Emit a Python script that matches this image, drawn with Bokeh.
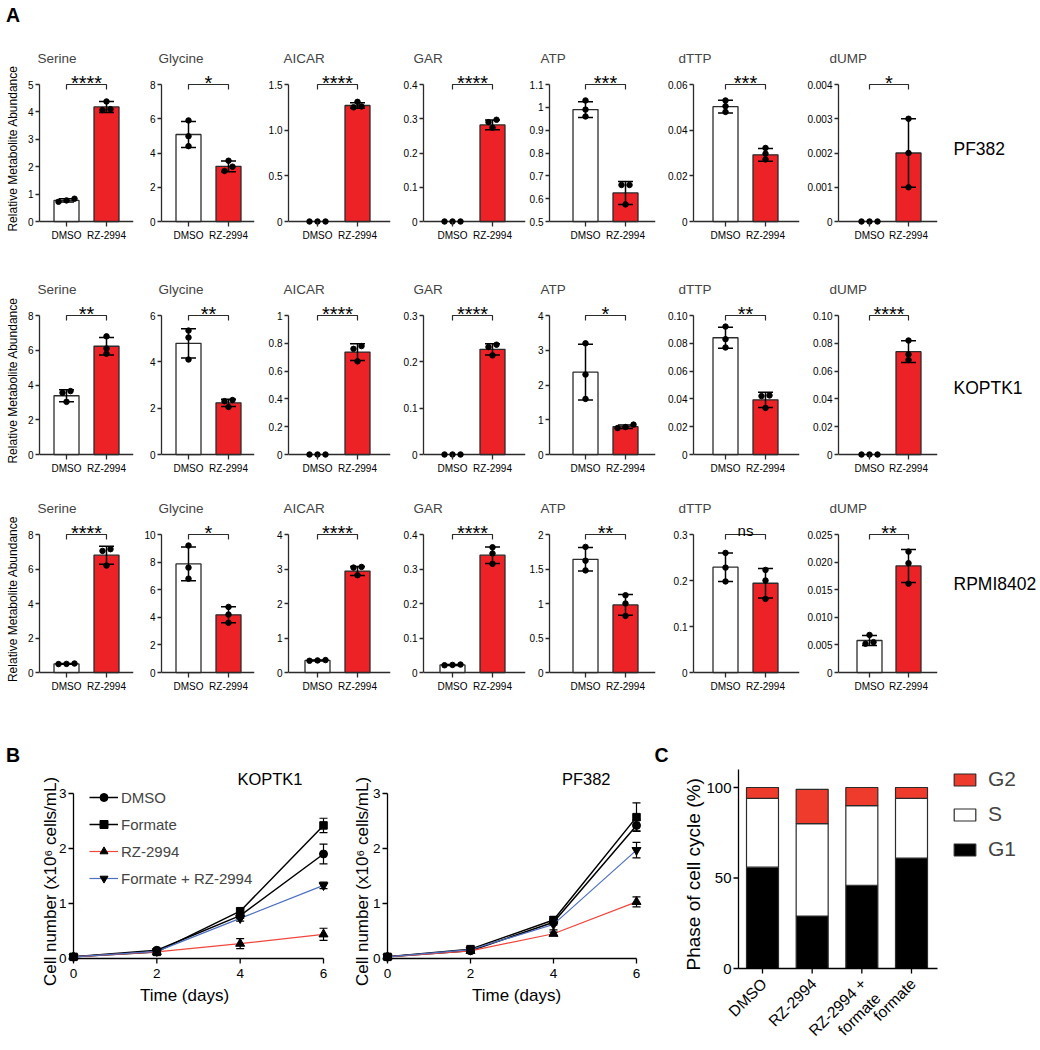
import math
from bokeh.plotting import figure
from bokeh.models import (Range1d, FixedTicker, Whisker, TeeHead, ColumnDataSource,
                          Label, Legend, LegendItem, Span)
from bokeh.layouts import row, column
from bokeh.embed import file_html
from bokeh.resources import INLINE
from bokeh.core.properties import value

# ============================ DATA ============================
# ---- Panel A: relative metabolite abundance (bar = mean, whisker = SD, dots = replicates)
metabolites = ["Serine", "Glycine", "AICAR", "GAR", "ATP", "dTTP", "dUMP"]
treatments = ["DMSO", "RZ-2994"]
cell_lines = ["PF382", "KOPTK1", "RPMI8402"]

pf382_dmso_mean = [0.77, 5.08, 0.0, 0.0, 0.99, 0.0503, 0.0]
pf382_dmso_sd = [0.06, 0.76, 0.0, 0.0, 0.035, 0.0028, 0.0]
pf382_dmso_pts = [[0.83, 0.77, 0.72], [5.90, 4.98, 4.40], [0, 0, 0], [0, 0, 0],
                  [1.03, 0.99, 0.96], [0.0530, 0.0505, 0.0480], [0, 0, 0]]
pf382_rz_mean = [4.18, 3.22, 1.27, 0.282, 0.625, 0.0292, 0.0020]
pf382_rz_sd = [0.20, 0.32, 0.03, 0.014, 0.05, 0.0028, 0.0010]
pf382_rz_pts = [[4.38, 4.10, 4.07], [3.55, 3.20, 2.95], [1.31, 1.26, 1.25],
                [0.297, 0.290, 0.274], [0.66, 0.66, 0.575], [0.0322, 0.0297, 0.0272],
                [0.0030, 0.0020, 0.0010]]
pf382_ticks = [["0", "1", "2", "3", "4", "5"], ["0", "2", "4", "6", "8"],
               ["0", "0.5", "1.0", "1.5"], ["0", "0.1", "0.2", "0.3", "0.4"],
               ["0.5", "0.6", "0.7", "0.8", "0.9", "1", "1.1"],
               ["0", "0.02", "0.04", "0.06"], ["0", "0.001", "0.002", "0.003", "0.004"]]
pf382_sig = ["****", "*", "****", "****", "***", "***", "*"]

koptk1_dmso_mean = [3.38, 4.80, 0.0, 0.0, 2.37, 0.084, 0.0]
koptk1_dmso_sd = [0.34, 0.63, 0.0, 0.0, 0.80, 0.0075, 0.0]
koptk1_dmso_pts = [[3.65, 3.55, 3.03], [5.35, 5.05, 4.10], [0, 0, 0], [0, 0, 0],
                   [3.20, 2.30, 1.60], [0.092, 0.083, 0.077], [0, 0, 0]]
koptk1_rz_mean = [6.23, 2.23, 0.737, 0.227, 0.80, 0.0393, 0.074]
koptk1_rz_sd = [0.50, 0.16, 0.06, 0.012, 0.05, 0.0055, 0.0078]
koptk1_rz_pts = [[6.80, 6.10, 5.80], [2.35, 2.30, 2.05], [0.78, 0.76, 0.67],
                 [0.237, 0.232, 0.214], [0.86, 0.79, 0.76], [0.0425, 0.0420, 0.0335],
                 [0.082, 0.072, 0.068]]
koptk1_ticks = [["0", "2", "4", "6", "8"], ["0", "2", "4", "6"],
                ["0", "0.2", "0.4", "0.6", "0.8", "1"], ["0", "0.1", "0.2", "0.3"],
                ["0", "1", "2", "3", "4"],
                ["0", "0.02", "0.04", "0.06", "0.08", "0.10"],
                ["0", "0.02", "0.04", "0.06", "0.08", "0.10"]]
koptk1_sig = ["**", "**", "****", "****", "*", "**", "****"]

rpmi8402_dmso_mean = [0.50, 7.87, 0.35, 0.022, 1.64, 0.229, 0.0058]
rpmi8402_dmso_sd = [0.02, 1.22, 0.015, 0.0015, 0.17, 0.031, 0.0009]
rpmi8402_dmso_pts = [[0.52, 0.50, 0.49], [9.20, 7.60, 6.80], [0.36, 0.35, 0.34],
                     [0.023, 0.022, 0.021], [1.82, 1.62, 1.48], [0.260, 0.228, 0.198],
                     [0.0068, 0.0055, 0.0052]]
rpmi8402_rz_mean = [6.80, 4.18, 2.94, 0.340, 0.98, 0.194, 0.0193]
rpmi8402_rz_sd = [0.52, 0.58, 0.13, 0.024, 0.15, 0.032, 0.0030]
rpmi8402_rz_pts = [[7.15, 7.05, 6.20], [4.75, 4.20, 3.60], [3.06, 3.04, 2.82],
                   [0.363, 0.345, 0.315], [1.12, 1.00, 0.82], [0.223, 0.200, 0.160],
                   [0.0219, 0.0198, 0.0161]]
rpmi8402_ticks = [["0", "2", "4", "6", "8"], ["0", "2", "4", "6", "8", "10"],
                  ["0", "1", "2", "3", "4"], ["0", "0.1", "0.2", "0.3", "0.4"],
                  ["0", "0.5", "1", "1.5", "2"], ["0", "0.1", "0.2", "0.3"],
                  ["0", "0.005", "0.010", "0.015", "0.020", "0.025"]]
rpmi8402_sig = ["****", "*", "****", "****", "**", "ns", "**"]

# ---- Panel B: cell growth (x10^6 cells/mL), mean and error
days = [0, 2, 4, 6]
growth_series = ["DMSO", "Formate", "RZ-2994", "Formate + RZ-2994"]
koptk1_g_dmso = [0.03, 0.15, 0.78, 1.90]
koptk1_g_dmso_err = [0.01, 0.02, 0.05, 0.18]
koptk1_g_formate = [0.03, 0.12, 0.86, 2.42]
koptk1_g_formate_err = [0.01, 0.01, 0.04, 0.13]
koptk1_g_rz = [0.03, 0.12, 0.27, 0.44]
koptk1_g_rz_err = [0.01, 0.01, 0.09, 0.11]
koptk1_g_frz = [0.03, 0.13, 0.73, 1.33]
koptk1_g_frz_err = [0.01, 0.01, 0.05, 0.06]
pf382_g_dmso = [0.03, 0.14, 0.66, 2.42]
pf382_g_dmso_err = [0.01, 0.01, 0.05, 0.10]
pf382_g_formate = [0.03, 0.17, 0.70, 2.57]
pf382_g_formate_err = [0.01, 0.02, 0.06, 0.26]
pf382_g_rz = [0.03, 0.14, 0.45, 1.03]
pf382_g_rz_err = [0.01, 0.01, 0.03, 0.09]
pf382_g_frz = [0.03, 0.16, 0.62, 1.97]
pf382_g_frz_err = [0.01, 0.01, 0.10, 0.14]
growth_x_ticks = ["0", "2", "4", "6"]
growth_y_ticks = ["0", "1", "2", "3"]

# ---- Panel C: phase of cell cycle (%)
cycle_groups = ["DMSO", "RZ-2994", "RZ-2994 +\nformate", "formate"]
phase_names = ["G1", "S", "G2"]
phase_g1 = [56, 29, 46, 61]
phase_s = [38, 51, 44, 33]
phase_g2 = [6, 19, 10, 6]
cycle_y_ticks = ["0", "50", "100"]
cycle_y_max = 110

# ============================ STYLE / LAYOUT ============================
FONT = "Liberation Sans"
RED_BAR = "#EC2227"
RED_C = "#EF3B2C"
RED_LINE = "#F0473D"
BLUE_LINE = "#4D6FC0"
EDGE = "#2b2b2b"

# panel A geometry (page pixels)
A_B = [0, 134, 255, 391, 526, 656, 800, 938, 1040]       # figure boundaries
A_AX = [39, 161, 288, 423, 549, 693, 838]               # y-axis x
A_C1 = [66, 188, 317, 452, 585, 725, 869]               # DMSO bar centre
A_C2 = [106, 228, 357, 492, 625, 765, 908]              # RZ bar centre
A_END = [133, 254, 390, 525, 655, 799, 937]             # x-axis end
A_TITLE_X = [37, 158, 283, 413, 540, 678, 829]
A_ROW_TOP = [84, 315, 534]      # pixel of top tick
A_ROW_BOT = [221, 454, 672]     # pixel of bottom tick
A_FIG_TOP = [38, 269, 488]
A_FIG_BOT = [269, 488, 702]
A_PAD_TOP = 14
A_PAD_BOT = 5
A_BAR_W = 25
A_DOT_STEP = 8
A_LINE_X = 953
A_LINE_Y = [148, 387, 583]

# panel B/C geometry
B_TOP, B_BOT = 767, 1050
B_Y0, B_Y3 = 958, 793
B_TITLE_Y = 778
B_XTICK_Y = 972.5
B_XLABEL_Y = 995
B_YLABEL_Y = 881

C_FIG_L, C_FIG_R = 650, 1040
C_AX, C_AX_END = 738, 937
C_BAR_PX = [762, 812, 861, 911]
C_BAR_W = 32
C_Y0, C_Y100 = 968, 787
C_YLABEL_X = 693


def tick_key(v):
    return int(v) if float(v).is_integer() else v


def new_fig(**kw):
    p = figure(toolbar_location=None, output_backend="svg", frame_align=False, **kw)
    p.outline_line_color = None
    p.background_fill_color = "white"
    p.border_fill_color = "white"
    if p.xgrid:
        p.xgrid.visible = False
    if p.ygrid:
        p.ygrid.visible = False
    return p


def style_axis(axis, size, color, tick_out, line_w=1.3, standoff=2):
    axis.axis_line_color = color
    axis.axis_line_width = line_w
    axis.major_tick_line_color = color
    axis.major_tick_line_width = line_w
    axis.major_tick_in = 0
    axis.major_tick_out = tick_out
    axis.minor_tick_line_color = None
    axis.major_label_text_font = FONT
    axis.major_label_text_font_size = size
    axis.major_label_text_color = "black"
    axis.major_label_standoff = standoff
    axis.axis_label_text_font = FONT
    axis.axis_label_text_font_style = "normal"
    axis.axis_label_text_color = "black"


def text_strip(width, height, items):
    p = new_fig(width=width, height=height, x_range=Range1d(0, width),
                y_range=Range1d(height, 0), min_border=0,
                x_axis_location=None, y_axis_location=None)
    for (x, y, txt, size, style, baseline) in items:
        p.add_layout(Label(x=x, y=y, text=txt, text_font=FONT, text_font_size=size,
                           text_font_style=style, text_baseline=baseline,
                           text_align="left", text_color="black"))
    return p


def swarm(vals, cx, px_per_unit, step):
    order = sorted(range(len(vals)), key=lambda i: vals[i])
    clusters = []
    for i in order:
        if clusters and abs(vals[i] - vals[clusters[-1][-1]]) * px_per_unit < 4.5:
            clusters[-1].append(i)
        else:
            clusters.append([i])
    xs = [cx] * len(vals)
    for cl in clusters:
        n = len(cl)
        for k, i in enumerate(cl):
            xs[i] = cx + (k - (n - 1) / 2) * step
    return xs


def bar_panel(r, c, name, tick_labels, means, sds, pts, sig):
    ticks = [float(t) for t in tick_labels]
    lo, hi = ticks[0], ticks[-1]
    H = A_ROW_BOT[r] - A_ROW_TOP[r]
    upp = (hi - lo) / H
    u = A_C2[c] - A_C1[c]
    xr = Range1d(1 - (A_C1[c] - A_AX[c]) / u, 2 + (A_END[c] - A_C2[c]) / u)
    yr = Range1d(lo - A_PAD_BOT * upp, hi + A_PAD_TOP * upp)
    ft, fb = A_FIG_TOP[r], A_FIG_BOT[r]
    p = new_fig(width=A_B[c + 1] - A_B[c], height=fb - ft, x_range=xr, y_range=yr,
                min_border_left=A_AX[c] - A_B[c], min_border_right=A_B[c + 1] - A_END[c],
                min_border_top=(A_ROW_TOP[r] - A_PAD_TOP) - ft,
                min_border_bottom=fb - (A_ROW_BOT[r] + A_PAD_BOT), title=name)
    p.title.text_font = FONT
    p.title.text_font_size = "13.5px"
    p.title.text_font_style = "normal"
    p.title.align = "left"
    p.title.offset = A_TITLE_X[c] - A_AX[c]
    p.title.standoff = 9

    p.add_layout(Span(location=lo, dimension="width", line_color=EDGE,
                      line_width=1.3, level="underlay"))
    xs = [1, 2]
    fills = ["white", RED_BAR]
    keep = [i for i in range(2) if means[i] > lo]
    p.vbar(x=[xs[i] for i in keep], top=[means[i] for i in keep], bottom=lo,
           width=A_BAR_W / u, fill_color=[fills[i] for i in keep],
           line_color=EDGE, line_width=1.3)
    wk = [i for i in range(2) if sds[i] > 0]
    wsrc = ColumnDataSource(dict(x=[xs[i] for i in wk],
                                 up=[means[i] + sds[i] for i in wk],
                                 dn=[means[i] - sds[i] for i in wk]))
    p.add_layout(Whisker(source=wsrc, base="x", upper="up", lower="dn",
                         dimension="height", line_width=1.5, line_color="black",
                         level="annotation",
                         upper_head=TeeHead(size=15, line_width=1.5, line_color="black"),
                         lower_head=TeeHead(size=15, line_width=1.5, line_color="black")))
    for i in range(2):
        jx = swarm(pts[i], xs[i], 1 / upp, A_DOT_STEP / u)
        p.scatter(jx, pts[i], size=5.5, fill_color="black", line_color="black")

    tk = 5 * upp
    p.line([1, 1, 2, 2], [hi - tk, hi, hi, hi - tk], line_color=EDGE, line_width=1.2)
    if sig == "ns":
        p.text([1.5], [hi + 4 * upp], text=[sig], text_align="center",
               text_baseline="alphabetic", text_font=value(FONT),
               text_font_size="15px", text_color="black")
    else:
        p.text([1.5], [hi + 1.5 * upp], text=[sig], text_align="center",
               text_baseline="alphabetic", text_font=value(FONT),
               text_font_size="20px", text_color="black")

    ya = p.yaxis[0]
    style_axis(ya, "10px", EDGE, 4, 1.3, 2)
    ya.ticker = FixedTicker(ticks=ticks)
    ya.major_label_overrides = {tick_key(t): s for t, s in zip(ticks, tick_labels)}
    ya.bounds = (lo, hi)
    if c == 0:
        ya.axis_label = "Relative Metabolite Abundance"
        ya.axis_label_text_font_size = "12px"
        ya.axis_label_standoff = 5
    xa = p.xaxis[0]
    style_axis(xa, "10px", EDGE, 0, 1.3, 3)
    xa.axis_line_color = None
    xa.major_tick_in = A_PAD_BOT
    xa.ticker = FixedTicker(ticks=xs)
    xa.major_label_overrides = {1: treatments[0], 2: treatments[1]}
    return p


GROWTH_STYLE = [("black", 1.5, "circle", 8), ("black", 1.5, "square", 7.5),
                (RED_LINE, 1.2, "triangle", 9), (BLUE_LINE, 1.2, "inverted_triangle", 9)]


def growth_panel(fig_l, fig_r, x0_px, x6_px, name, name_right, xlabel_cx, ylabel_cx,
                 series, errors, with_legend):
    pxx = (x6_px - x0_px) / 6.0
    pxy = (B_Y0 - B_Y3) / 3.0
    X = lambda px: (px - x0_px) / pxx          # page px -> data x
    Y = lambda py: (B_Y0 - py) / pxy           # page px -> data y
    p = new_fig(width=fig_r - fig_l, height=B_BOT - B_TOP,
                x_range=Range1d(X(fig_l), X(fig_r)), y_range=Range1d(Y(B_BOT), Y(B_TOP)),
                min_border=0, x_axis_location=None, y_axis_location=None)
    xt = [float(t) for t in growth_x_ticks]
    yt = [float(t) for t in growth_y_ticks]
    # axes drawn in data space
    p.line([xt[0], xt[-1]], [0, 0], line_color="black", line_width=1.3)
    p.line([0, 0], [yt[0], yt[-1]], line_color="black", line_width=1.3)
    p.segment(x0=xt, y0=[0] * len(xt), x1=xt, y1=[-5 / pxy] * len(xt),
              line_color="black", line_width=1.3)
    p.segment(x0=[0] * len(yt), y0=yt, x1=[-5 / pxx] * len(yt), y1=yt,
              line_color="black", line_width=1.3)
    p.text(x=xt, y=[Y(B_XTICK_Y)] * len(xt), text=growth_x_ticks, text_align="center",
           text_baseline="middle", text_font=value(FONT), text_font_size="13.5px",
           text_color="black")
    p.text(x=[-7 / pxx] * len(yt), y=yt, text=growth_y_ticks, text_align="right",
           text_baseline="middle", text_font=value(FONT), text_font_size="13.5px",
           text_color="black")
    p.text(x=[X(xlabel_cx)], y=[Y(B_XLABEL_Y)], text=["Time (days)"],
           text_align="center", text_baseline="middle", text_font=value(FONT),
           text_font_size="17px", text_color="black")
    p.text(x=[X(ylabel_cx)], y=[Y(B_YLABEL_Y)], text=["Cell number (x10\u2076 cells/mL)"],
           angle=math.pi / 2, text_align="center", text_baseline="middle",
           text_font=value(FONT), text_font_size="17px", text_color="black")

    items = []
    for lab, (color, lw, marker, ms), vals, errs in zip(growth_series, GROWTH_STYLE,
                                                         series, errors):
        ln = p.line(days, vals, line_color=color, line_width=lw)
        wsrc = ColumnDataSource(dict(x=days, up=[v + e for v, e in zip(vals, errs)],
                                     dn=[v - e for v, e in zip(vals, errs)]))
        p.add_layout(Whisker(source=wsrc, base="x", upper="up", lower="dn",
                             dimension="height", line_width=1.2, line_color="black",
                             level="annotation",
                             upper_head=TeeHead(size=8, line_width=1.2, line_color="black"),
                             lower_head=TeeHead(size=8, line_width=1.2, line_color="black")))
        sc = p.scatter(days, vals, marker=marker, size=ms, fill_color="black",
                       line_color="black")
        items.append(LegendItem(label=lab, renderers=[ln, sc]))
    p.add_layout(Label(x=X(name_right), y=Y(B_TITLE_Y),
                       text=name, text_align="right", text_baseline="middle",
                       text_font=FONT, text_font_size="16.5px", text_color="black"))
    if with_legend:
        n = len(items)
        item_h, gap = 20, 7
        leg_h = n * item_h + (n - 1) * gap
        top = 797 - item_h / 2
        leg = Legend(items=items, location=(89 - fig_l, B_BOT - (top + leg_h)),
                     glyph_width=29, glyph_height=item_h, label_height=item_h,
                     label_standoff=3, spacing=gap, padding=0, margin=0,
                     border_line_color=None, background_fill_alpha=0,
                     label_text_font=FONT, label_text_font_size="15px")
        p.add_layout(leg)
    return p


def cycle_panel():
    unit = (C_BAR_PX[-1] - C_BAR_PX[0]) / 3.0
    pxy = (C_Y0 - C_Y100) / 100.0
    xr = Range1d(1 - (C_BAR_PX[0] - C_FIG_L) / unit, 1 + (C_FIG_R - C_BAR_PX[0]) / unit)
    yr = Range1d(-(B_BOT - C_Y0) / pxy, (C_Y0 - B_TOP) / pxy)
    p = new_fig(width=C_FIG_R - C_FIG_L, height=B_BOT - B_TOP, x_range=xr, y_range=yr,
                min_border=0, x_axis_location=None, y_axis_location=None)
    xs = list(range(1, len(cycle_groups) + 1))
    src = ColumnDataSource(dict(x=xs, G1=phase_g1, S=phase_s, G2=phase_g2))
    rs = p.vbar_stack(phase_names, x="x", width=C_BAR_W / unit, source=src,
                      fill_color=["black", "white", RED_C], line_color=EDGE,
                      line_width=1.2)
    x_ax = 1 - (C_BAR_PX[0] - C_AX) / unit
    x_end = 1 + (C_AX_END - C_BAR_PX[0]) / unit
    yt = [float(t) for t in cycle_y_ticks]
    # value axis
    p.line([x_ax, x_ax], [0, cycle_y_max], line_color="black", line_width=1.3)
    p.segment(x0=[x_ax] * len(yt), y0=yt, x1=[x_ax - 5 / unit] * len(yt), y1=yt,
              line_color="black", line_width=1.3)
    p.text(x=[x_ax - 7 / unit] * len(yt), y=yt, text=cycle_y_ticks, text_align="right",
           text_baseline="middle", text_font=value(FONT), text_font_size="15px",
           text_color="black")
    p.text(x=[x_ax - (C_AX - C_YLABEL_X) / unit], y=[cycle_y_max / 2 - 3],
           text=["Phase of cell cycle (%)"], angle=math.pi / 2, text_align="center",
           text_baseline="middle", text_font=value(FONT), text_font_size="19px",
           text_color="black")
    # category axis
    p.line([x_ax, x_end], [0, 0], line_color="black", line_width=1.3)
    p.segment(x0=xs, y0=[0] * len(xs), x1=xs, y1=[-5 / pxy] * len(xs),
              line_color="black", line_width=1.3)
    p.text(x=[x - 4.5 / unit for x in xs], y=[-6.5 / pxy] * len(xs), text=cycle_groups,
           angle=math.pi / 4, text_align="right", text_baseline="top",
           text_font=value(FONT), text_font_size="15.5px", text_color="black")
    items = [LegendItem(label=phase_names[i], renderers=[rs[i]]) for i in (2, 1, 0)]
    item_h, gap = 24, 11
    leg_h = 3 * item_h + 2 * gap
    top = 779 - item_h / 2
    leg = Legend(items=items, location=(951 - C_FIG_L, B_BOT - (top + leg_h)),
                 glyph_width=27, glyph_height=15, label_height=item_h,
                 label_standoff=10, spacing=gap, padding=0, margin=0,
                 border_line_color=None, background_fill_alpha=0,
                 label_text_font=FONT, label_text_font_size="21px")
    p.add_layout(leg)
    return p


# ============================ BUILD ============================
panel_a_rows = [
    (cell_lines[0], pf382_dmso_mean, pf382_dmso_sd, pf382_dmso_pts,
     pf382_rz_mean, pf382_rz_sd, pf382_rz_pts, pf382_ticks, pf382_sig),
    (cell_lines[1], koptk1_dmso_mean, koptk1_dmso_sd, koptk1_dmso_pts,
     koptk1_rz_mean, koptk1_rz_sd, koptk1_rz_pts, koptk1_ticks, koptk1_sig),
    (cell_lines[2], rpmi8402_dmso_mean, rpmi8402_dmso_sd, rpmi8402_dmso_pts,
     rpmi8402_rz_mean, rpmi8402_rz_sd, rpmi8402_rz_pts, rpmi8402_ticks, rpmi8402_sig),
]

blocks = [text_strip(1040, A_FIG_TOP[0], [(5.5, 3, "A", "19.5px", "bold", "top")])]
for r, (line, dm, ds, dp, rm, rsd, rp, tk, sg) in enumerate(panel_a_rows):
    figs = [bar_panel(r, c, metabolites[c], tk[c], (dm[c], rm[c]), (ds[c], rsd[c]),
                      (dp[c], rp[c]), sg[c]) for c in range(7)]
    figs.append(text_strip(A_B[8] - A_B[7], A_FIG_BOT[r] - A_FIG_TOP[r],
                           [(A_LINE_X - A_B[7], A_LINE_Y[r] - A_FIG_TOP[r], line,
                             "17.5px", "normal", "middle")]))
    blocks.append(row(*figs))

blocks.append(text_strip(1040, B_TOP - A_FIG_BOT[2],
                         [(5.5, 743 - A_FIG_BOT[2], "B", "19.5px", "bold", "top"),
                          (654, 743 - A_FIG_BOT[2], "C", "19.5px", "bold", "top")]))

gB1 = growth_panel(0, 335, 73, 323, "KOPTK1", 302, 184, 50,
                   [koptk1_g_dmso, koptk1_g_formate, koptk1_g_rz, koptk1_g_frz],
                   [koptk1_g_dmso_err, koptk1_g_formate_err, koptk1_g_rz_err, koptk1_g_frz_err],
                   True)
gB2 = growth_panel(335, 650, 387, 636, "PF382", 610, 516, 362,
                   [pf382_g_dmso, pf382_g_formate, pf382_g_rz, pf382_g_frz],
                   [pf382_g_dmso_err, pf382_g_formate_err, pf382_g_rz_err, pf382_g_frz_err],
                   False)
gC = cycle_panel()
blocks.append(row(gB1, gB2, gC))

layout = column(*blocks)
open("out.html", "w").write(file_html(layout, INLINE))
